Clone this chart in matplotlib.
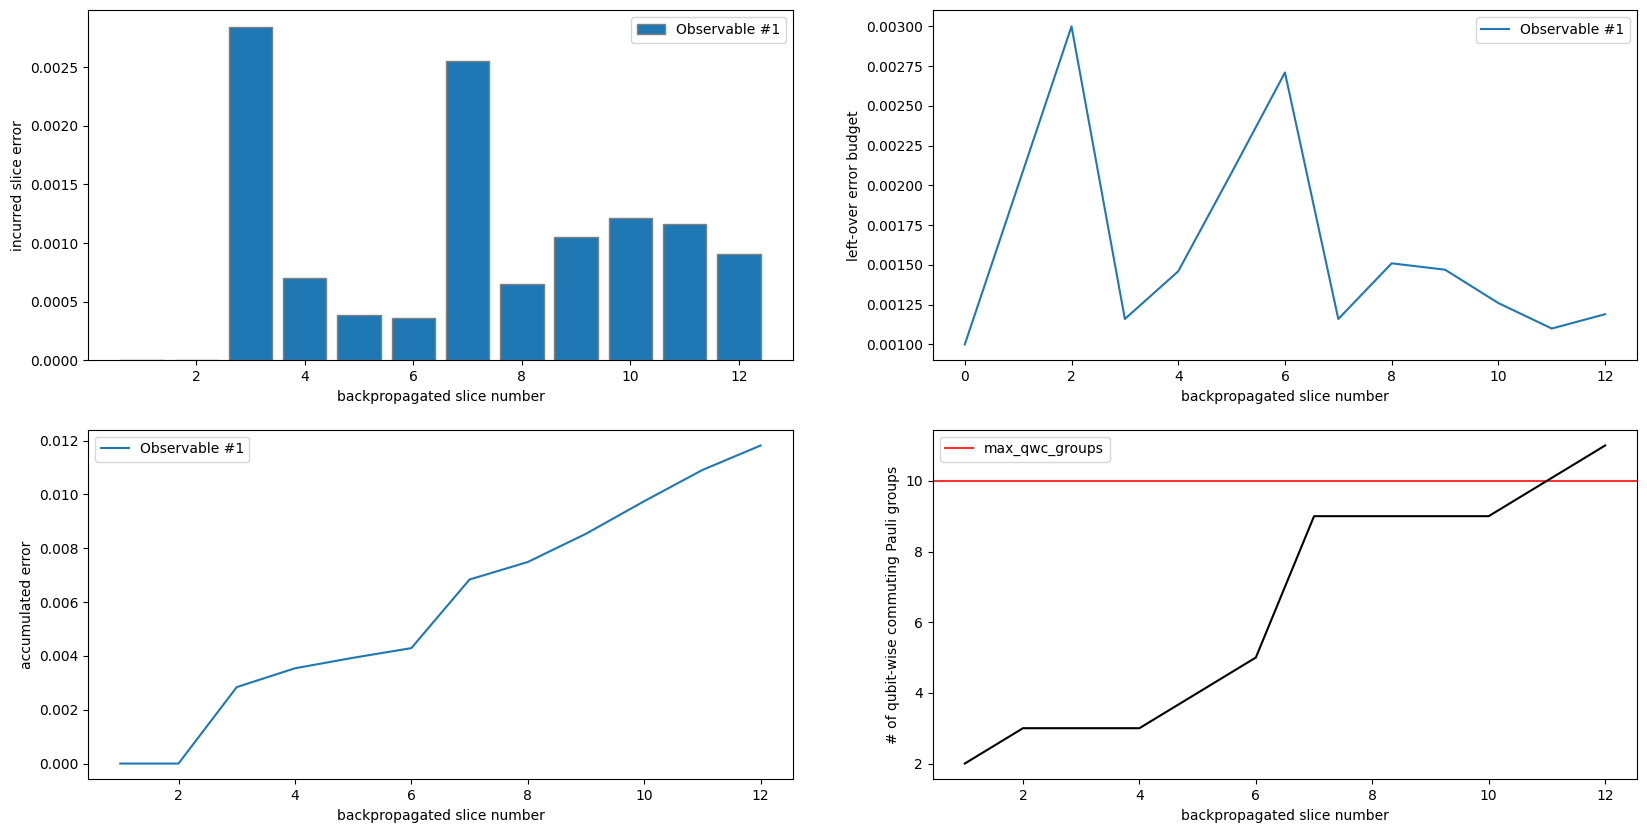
import matplotlib
matplotlib.use("Agg")
import matplotlib.pyplot as plt

# slice numbers
slices = [1, 2, 3, 4, 5, 6, 7, 8, 9, 10, 11, 12]
budget_slices = [0, 1, 2, 3, 4, 5, 6, 7, 8, 9, 10, 11, 12]

# incurred error per slice
slice_errors = [0.0, 0.0, 0.00284, 0.00070, 0.00039, 0.00036,
                0.00255, 0.00065, 0.00105, 0.00121, 0.00116, 0.00091]

# left-over error budget
leftover_budget = [0.00100, 0.00200, 0.00300, 0.00116, 0.00146, 0.00208,
                   0.00271, 0.00116, 0.00151, 0.00147, 0.00126, 0.00110, 0.00119]

# accumulated error
accumulated = [0.0, 0.0, 0.00284, 0.00354, 0.00393, 0.00429,
               0.00684, 0.00749, 0.00854, 0.00975, 0.01091, 0.01182]

# number of qubit-wise commuting groups
num_groups = [2, 3, 3, 3, 4, 5, 9, 9, 9, 9, 10, 11]
max_qwc_groups = 10

fig, axes = plt.subplots(2, 2, figsize=(16.47, 8.33), dpi=100)
fig.subplots_adjust(left=0.0536, right=0.994, top=0.9874, bottom=0.0643,
                    wspace=0.199, hspace=0.198)

ax = axes[0, 0]
ax.bar(slices, slice_errors, color="tab:blue", edgecolor="grey", label="Observable #1")
ax.set_xlabel("backpropagated slice number")
ax.set_ylabel("incurred slice error")
ax.set_xticks([2, 4, 6, 8, 10, 12])
ax.legend(loc="upper right")

ax = axes[0, 1]
ax.plot(budget_slices, leftover_budget, label="Observable #1")
ax.set_xlabel("backpropagated slice number")
ax.set_ylabel("left-over error budget")
ax.legend(loc="upper right")

ax = axes[1, 0]
ax.plot(slices, accumulated, label="Observable #1")
ax.set_xlabel("backpropagated slice number")
ax.set_ylabel("accumulated error")
ax.legend(loc="upper left")

ax = axes[1, 1]
ax.axhline(max_qwc_groups, color="red", alpha=0.8, label="max_qwc_groups")
ax.plot(slices, num_groups, color="black")
ax.set_xlabel("backpropagated slice number")
ax.set_ylabel("# of qubit-wise commuting Pauli groups")
ax.legend(loc="upper left")

fig.savefig("out.png")
